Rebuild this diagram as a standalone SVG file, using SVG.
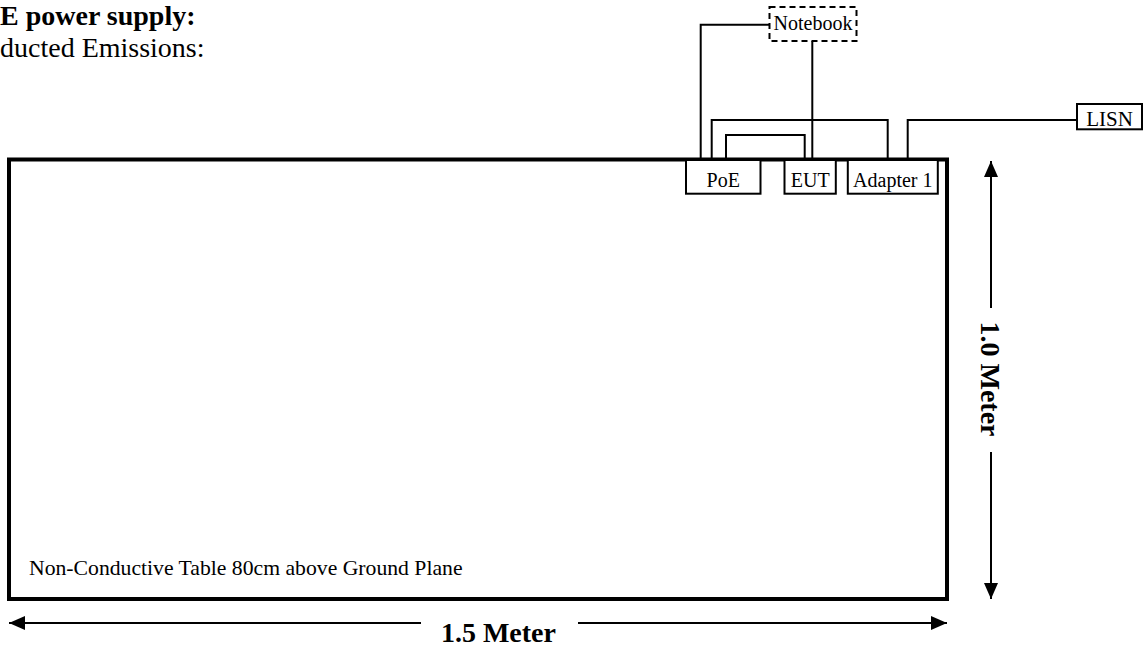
<svg xmlns="http://www.w3.org/2000/svg" width="1147" height="648" viewBox="0 0 1147 648">
  <style>
    text { font-family: "Liberation Serif", "Times New Roman", serif; fill: #000; }
    .hdr { font-size: 28px; }
    .bold { font-weight: bold; }
    .lbl { font-size: 20px; text-anchor: middle; }
    .box { fill: #fff; stroke: #000; stroke-width: 2; }
    .dash { fill: #fff; stroke: #000; stroke-width: 2; stroke-dasharray: 6 4; }
    .wire { fill: none; stroke: #000; stroke-width: 2; }
    .dim { fill: none; stroke: #000; stroke-width: 2; }
  </style>
  <defs>
    <marker id="ah" viewBox="0 0 16 14" refX="16" refY="7" markerWidth="16" markerHeight="14" markerUnits="userSpaceOnUse" orient="auto">
      <path d="M0,0 L16,7 L0,14 Z" fill="#000"/>
    </marker>
  </defs>
  <rect width="1147" height="648" fill="#fff"/>

  <text class="hdr bold" x="0" y="25">E power supply:</text>
  <text class="hdr" x="0" y="57">ducted Emissions:</text>

  <g id="table">
    <rect x="9" y="159.5" width="938" height="439.5" fill="none" stroke="#000" stroke-width="4"/>
    <text x="29" y="575" style="font-size:21.7px">Non-Conductive Table 80cm above Ground Plane</text>
  </g>

  <g id="connectors">
    <polyline class="wire" points="769.5,24.7 700.7,24.7 700.7,158"/>
    <polyline class="wire" points="812.3,41 812.3,158"/>
    <polyline class="wire" points="711.7,158 711.7,120 887.7,120 887.7,158"/>
    <polyline class="wire" points="726,158 726,135 804.7,135 804.7,158"/>
    <polyline class="wire" points="907.7,158 907.7,120 1077,120"/>
  </g>

  <g id="notebook">
    <rect class="dash" x="769.5" y="7" width="87" height="34"/>
    <text class="lbl" x="813" y="30">Notebook</text>
  </g>
  <g id="poe">
    <rect class="box" x="686" y="160" width="74.5" height="33.7"/>
    <text class="lbl" x="723.2" y="186.5">PoE</text>
  </g>
  <g id="eut">
    <rect class="box" x="784.5" y="160" width="51.3" height="33.7"/>
    <text class="lbl" x="810.2" y="186.5">EUT</text>
  </g>
  <g id="adapter1">
    <rect class="box" x="847.8" y="160" width="90" height="33.7"/>
    <text class="lbl" x="892.8" y="186.5">Adapter 1</text>
  </g>
  <g id="lisn">
    <rect class="box" x="1077" y="104" width="65" height="25.3"/>
    <text class="lbl" x="1109.5" y="126" style="font-size:21px">LISN</text>
  </g>

  <g id="dimensions">
    <line class="dim" x1="991" y1="308" x2="991" y2="161" marker-end="url(#ah)"/>
    <line class="dim" x1="991" y1="452" x2="991" y2="599" marker-end="url(#ah)"/>
    <text class="bold" transform="translate(981,379) rotate(90)" text-anchor="middle" style="font-size:28px">1.0 Meter</text>
    <line class="dim" x1="421" y1="623" x2="9" y2="623" marker-end="url(#ah)"/>
    <line class="dim" x1="578" y1="623" x2="947" y2="623" marker-end="url(#ah)"/>
    <text class="bold" x="498.4" y="641.7" text-anchor="middle" style="font-size:28px">1.5 Meter</text>
  </g>
</svg>
